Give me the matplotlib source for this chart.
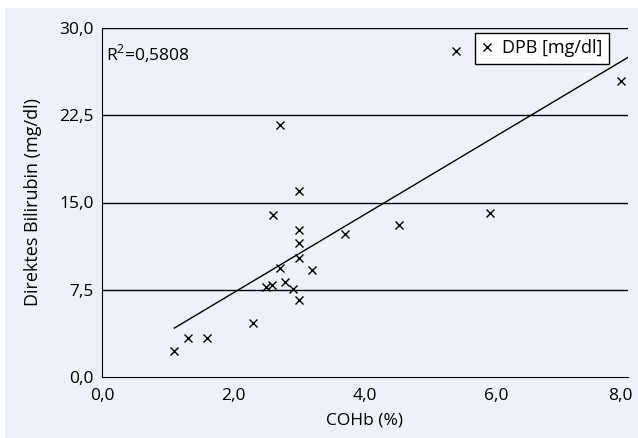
import numpy as np
import matplotlib
matplotlib.use('Agg')
import matplotlib.pyplot as plt
from matplotlib.ticker import FuncFormatter
from matplotlib.patches import Rectangle
from matplotlib.transforms import ScaledTranslation

# COHb (%) vs direct bilirubin (mg/dl)
cohb = [1.10, 1.31, 1.60, 2.30, 2.49, 2.59, 2.70, 2.79, 2.91, 3.00, 3.00, 3.00, 3.00,
        3.20, 3.00, 2.71, 2.60, 3.70, 4.51, 5.90, 5.38, 7.89]
dpb = [2.27, 3.35, 3.35, 4.64, 7.76, 7.90, 9.40, 8.20, 7.57, 6.62, 10.2, 11.55, 12.64,
       9.23, 16.0, 21.67, 13.93, 12.3, 13.1, 14.07, 28.06, 25.45]
r2_text = 'R$^2$=0,5808'
legend_label = 'DPB [mg/dl]'
xticks = [0, 2, 4, 6, 8]
yticks = [0, 7.5, 15, 22.5, 30]

bg = '#edf1f8'
plt.rcParams['font.family'] = ['Open Sans', 'DejaVu Sans']
plt.rcParams['font.size'] = 12.5
plt.rcParams['mathtext.fontset'] = 'custom'
plt.rcParams['mathtext.rm'] = 'Open Sans'

fig = plt.figure(figsize=(6.38, 4.38), dpi=100, facecolor='white')
fig.patches.append(Rectangle((5 / 638, 0), 1, 1 - 8 / 438, transform=fig.transFigure,
                             facecolor=bg, edgecolor='none', zorder=-10))
ax = fig.add_axes([102 / 638, 1 - 377 / 438, 526 / 638, 349 / 438])
ax.set_facecolor(bg)

x = np.array(cohb)
y = np.array(dpb)
k, b = np.polyfit(x, y, 1)
xs = np.array([x.min(), 8])
ax.plot(xs, k * xs + b, color='black', lw=1)

ax.plot(x, y, 'x', color='black', ms=6, mew=1, label=legend_label)

for v in yticks[1:]:
    ax.axhline(v, color='black', lw=1)

ax.set_xlim(0, 8)
ax.set_ylim(0, 30)
ax.set_xticks(xticks)
ax.set_yticks(yticks)
fmt = FuncFormatter(lambda v, p: f'{v:.1f}'.replace('.', ','))
ax.xaxis.set_major_formatter(fmt)
ax.yaxis.set_major_formatter(fmt)
ax.tick_params(length=0, pad=6)
ax.tick_params(axis='x', pad=8)
for s in ['top', 'right']:
    ax.spines[s].set_visible(False)

# last x label kept inside the figure
last = ax.get_xticklabels()[-1]
last.set_horizontalalignment('right')
last.set_transform(last.get_transform() + ScaledTranslation(5 / 100, 0, fig.dpi_scale_trans))

ax.set_xlabel('COHb (%)', labelpad=6)
ax.set_ylabel('Direktes Bilirubin (mg/dl)', labelpad=12, fontsize=13)

ax.text(0.008, 0.925, r2_text, transform=ax.transAxes, ha='left', va='center')

leg = ax.legend(loc='upper right', bbox_to_anchor=(0.964, 0.986), frameon=True,
                fancybox=False, edgecolor='black', facecolor='white', framealpha=1,
                fontsize=13, handlelength=0.6, handletextpad=0.55, borderpad=0.35,
                borderaxespad=0)
leg.get_frame().set_linewidth(1)

fig.savefig('out.png', dpi=100, facecolor=fig.get_facecolor())
